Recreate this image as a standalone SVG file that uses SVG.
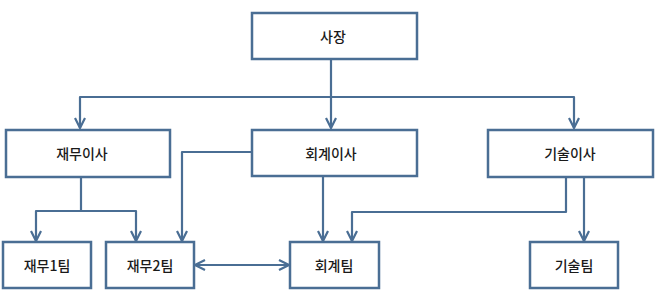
<svg xmlns="http://www.w3.org/2000/svg" width="657" height="301" viewBox="0 0 657 301">
<style>
.box{fill:#fff;stroke:#4a6e94;stroke-width:2.5}
.lbl{font-family:"Noto Sans CJK KR","Noto Sans",sans-serif;font-size:14px;font-weight:500;fill:#1a1a1a;text-anchor:middle;dominant-baseline:central}
.c{fill:none;stroke:#4a6e94;stroke-width:2.2;stroke-linejoin:round}
</style>
<defs>
<marker id="ah" viewBox="0 0 12 12" refX="11" refY="6" markerWidth="12" markerHeight="12" markerUnits="userSpaceOnUse" orient="auto-start-reverse">
<path d="M1,1 L11,6 L1,11" fill="none" stroke="#4a6e94" stroke-width="2.2"/>
</marker>
</defs>
<g id="connectors">
<path class="c" d="M331,59 V97 H80 V128" marker-end="url(#ah)"/>
<path class="c" d="M331,97 V128" marker-end="url(#ah)"/>
<path class="c" d="M331,97 H574 V128" marker-end="url(#ah)"/>
<path class="c" d="M81,177 V211 H36 V241" marker-end="url(#ah)"/>
<path class="c" d="M81,211 H136 V241" marker-end="url(#ah)"/>
<path class="c" d="M252,152 H182 V241" marker-end="url(#ah)"/>
<path class="c" d="M323,176 V241" marker-end="url(#ah)"/>
<path class="c" d="M566,177 V212 H352 V241" marker-end="url(#ah)"/>
<path class="c" d="M584,177 V241" marker-end="url(#ah)"/>
<path class="c" d="M195,265 H289" marker-start="url(#ah)" marker-end="url(#ah)"/>
</g>
<g id="n-ceo"><rect class="box" x="252" y="13" width="165" height="46"/><text class="lbl" x="333" y="36">사장</text></g>
<g id="n-fin"><rect class="box" x="6" y="130" width="164" height="47"/><text class="lbl" x="82" y="153">재무이사</text></g>
<g id="n-acc"><rect class="box" x="252" y="130" width="165" height="46"/><text class="lbl" x="331" y="153">회계이사</text></g>
<g id="n-tech"><rect class="box" x="488" y="130" width="165" height="47"/><text class="lbl" x="570" y="153">기술이사</text></g>
<g id="n-fin1"><rect class="box" x="3" y="242" width="88" height="46"/><text class="lbl" x="47" y="265">재무1팀</text></g>
<g id="n-fin2"><rect class="box" x="106" y="242" width="88" height="46"/><text class="lbl" x="150" y="265">재무2팀</text></g>
<g id="n-accteam"><rect class="box" x="290" y="242" width="89" height="46"/><text class="lbl" x="334" y="265">회계팀</text></g>
<g id="n-techteam"><rect class="box" x="530" y="242" width="88" height="46"/><text class="lbl" x="574" y="265">기술팀</text></g>
</svg>
